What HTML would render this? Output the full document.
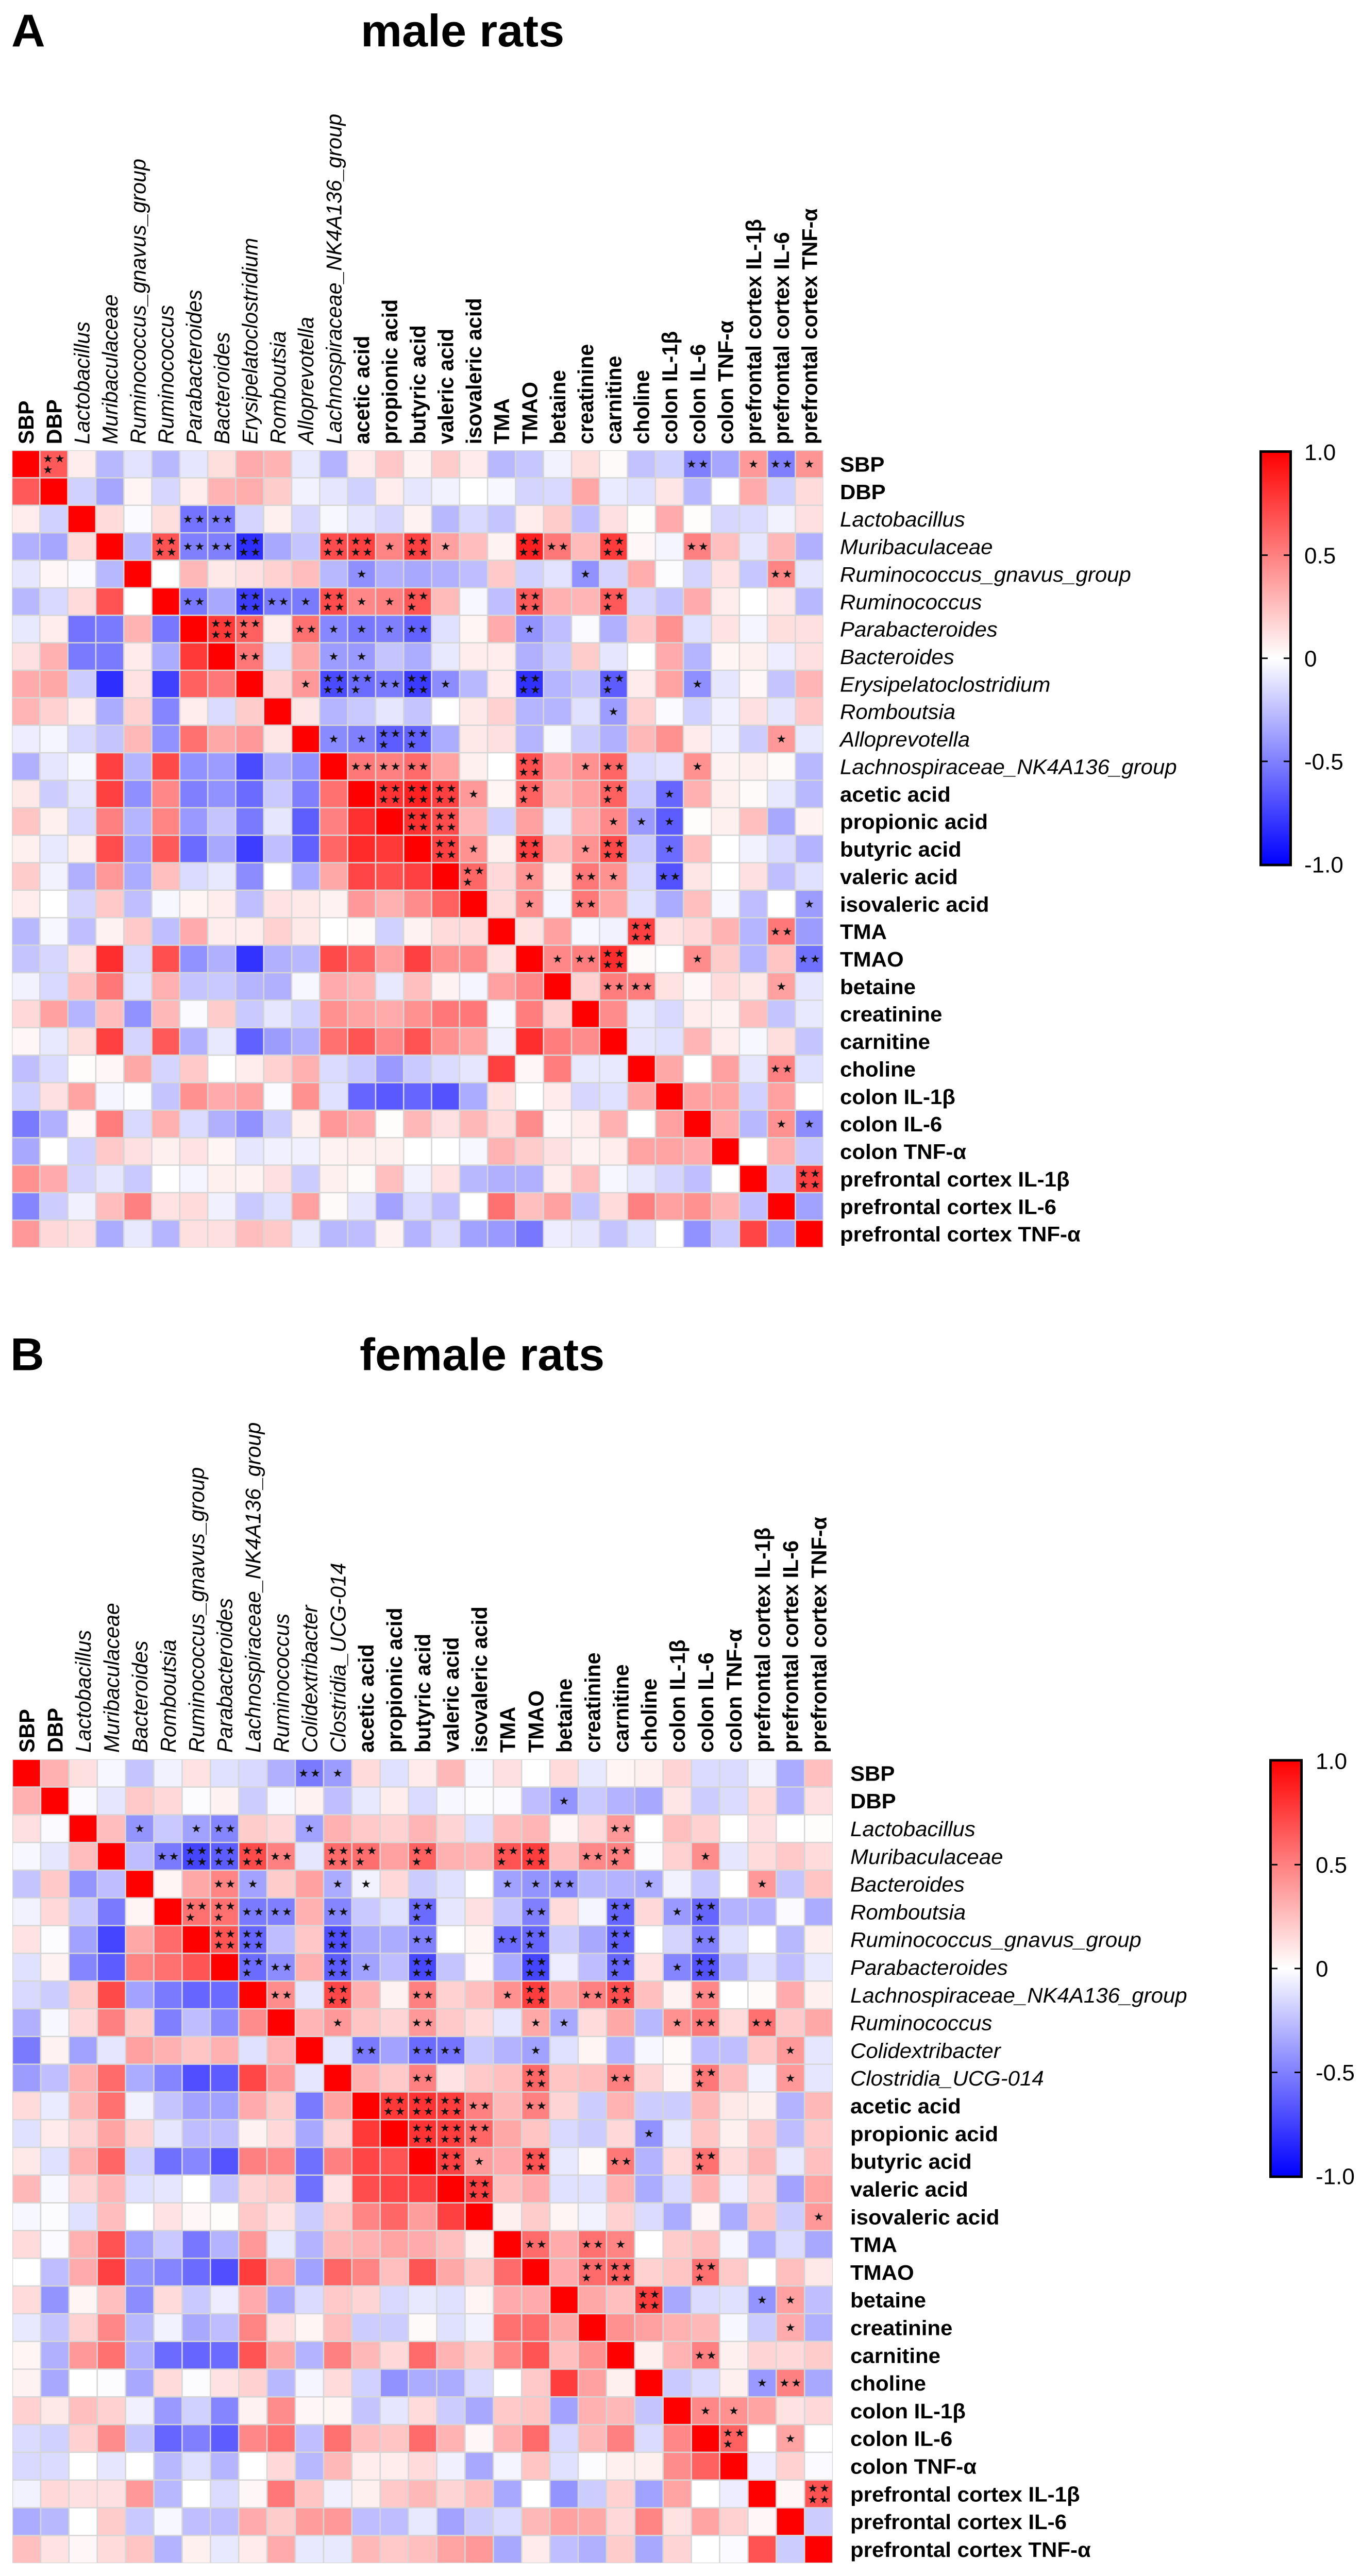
<!DOCTYPE html>
<html lang="en">
<head>
<meta charset="utf-8">
<title>Correlation heatmaps: male and female rats</title>
<style>
html,body{margin:0;padding:0;background:#fff;width:2643px;height:100%;overflow:hidden;}
svg{display:block;position:absolute;left:0;top:0;width:2643px;height:5097px;overflow:hidden;}
text{font-family:"Liberation Sans",Arial,sans-serif;fill:#000;}
.star{font-family:"DejaVu Sans",sans-serif;font-size:22px;text-anchor:middle;fill:#111;}
</style>
</head>
<body>
<svg id="figure" xmlns="http://www.w3.org/2000/svg" width="2643" height="5097" viewBox="0 0 2643 5097" preserveAspectRatio="none">
<rect x="0" y="0" width="2643" height="5097" fill="#ffffff"/>
<defs>
<linearGradient id="cbar" x1="0" y1="0" x2="0" y2="1">
<stop offset="0" stop-color="#ff0000"/>
<stop offset="0.5" stop-color="#ffffff"/>
<stop offset="1" stop-color="#0000ff"/>
</linearGradient>
</defs>
<text x="22" y="92" font-size="91" font-weight="bold">A</text>
<text x="700" y="92" font-size="90" font-weight="bold">male rats</text>
<text x="20" y="2711" font-size="91" font-weight="bold">B</text>
<text x="698" y="2711" font-size="90" font-weight="bold">female rats</text>
</svg>
<script>
const maleCategories = ["SBP","DBP","Lactobacillus","Muribaculaceae","Ruminococcus_gnavus_group","Ruminococcus","Parabacteroides","Bacteroides","Erysipelatoclostridium","Romboutsia","Alloprevotella","Lachnospiraceae_NK4A136_group","acetic acid","propionic acid","butyric acid","valeric acid","isovaleric acid","TMA","TMAO","betaine","creatinine","carnitine","choline","colon IL-1β","colon IL-6","colon TNF-α","prefrontal cortex IL-1β","prefrontal cortex IL-6","prefrontal cortex TNF-α"];
const femaleCategories = ["SBP","DBP","Lactobacillus","Muribaculaceae","Bacteroides","Romboutsia","Ruminococcus_gnavus_group","Parabacteroides","Lachnospiraceae_NK4A136_group","Ruminococcus","Colidextribacter","Clostridia_UCG-014","acetic acid","propionic acid","butyric acid","valeric acid","isovaleric acid","TMA","TMAO","betaine","creatinine","carnitine","choline","colon IL-1β","colon IL-6","colon TNF-α","prefrontal cortex IL-1β","prefrontal cortex IL-6","prefrontal cortex TNF-α"];
const maleValues = [
[1,.65,.07,-.28,-.11,-.28,-.1,.13,.33,.3,-.09,-.3,.08,.22,.05,.2,.08,-.28,-.22,-.05,.13,.02,-.24,-.18,-.5,-.35,.4,-.5,.42],
[.65,1,-.18,-.35,.04,-.16,.07,.3,.32,.2,-.05,-.1,-.18,.07,-.1,-.05,0,-.03,-.17,-.15,.35,-.08,-.12,.1,-.28,0,.33,-.18,.14],
[.07,-.18,1,.14,-.02,.13,-.55,-.52,-.17,.06,-.16,-.03,-.1,-.16,.05,-.28,-.15,-.23,.07,.2,-.25,.12,.01,.33,.01,-.16,-.14,-.05,.12],
[-.31,-.35,.14,1,-.28,.68,-.5,-.5,-.82,-.34,-.23,.7,.75,.48,.75,.37,.26,.05,.87,.53,.27,.77,.03,-.04,.5,.25,-.1,.28,-.31],
[-.1,.03,-.02,-.28,1,0,.28,.09,.12,.18,.26,-.28,-.44,-.31,-.34,-.31,-.26,.21,-.18,-.11,-.43,-.17,.32,-.01,-.17,.11,-.22,.48,-.1],
[-.28,-.15,.14,.68,0,1,-.53,-.34,-.76,-.52,-.52,.7,.47,.5,.67,.27,-.03,-.25,.65,.31,.29,.65,-.16,-.23,.33,.07,0,.09,-.28],
[-.09,.07,-.55,-.52,.3,-.53,1,.78,.62,.07,.56,-.47,-.53,-.5,-.62,-.12,.04,.33,-.43,-.25,-.02,-.31,.22,.43,-.12,.11,-.04,.13,.12],
[.12,.31,-.52,-.52,.08,-.33,.78,1,.53,-.12,.34,-.39,-.4,-.23,-.32,-.09,.07,.07,-.31,-.2,.2,-.1,0,.33,-.29,.04,.06,-.07,.12],
[.33,.34,-.2,-.82,.11,-.75,.62,.53,1,.17,.4,-.71,-.58,-.52,-.77,-.45,-.28,.08,-.81,-.29,-.23,-.64,.08,.36,-.44,-.1,.03,-.23,.29],
[.29,.18,.07,-.33,.18,-.48,.07,-.14,.2,1,.1,-.29,-.21,-.1,-.23,0,.09,.18,-.29,-.29,-.12,-.39,.18,-.02,-.18,-.06,.12,-.1,.21],
[-.07,-.04,-.15,-.23,.28,-.43,.56,.34,.4,.1,1,-.46,-.5,-.64,-.62,-.32,.09,.12,-.29,-.03,-.2,-.31,.28,.43,.08,-.06,-.2,.4,-.09],
[-.31,-.1,-.03,.75,-.29,.71,-.43,-.39,-.71,-.31,-.43,1,.53,.5,.58,.36,.06,0,.69,.33,.43,.6,-.14,-.11,.43,.05,.06,.02,-.28],
[.09,-.2,-.1,.75,-.44,.47,-.5,-.43,-.58,-.21,-.5,.56,1,.8,.87,.75,.4,.04,.62,.28,.37,.62,-.21,-.6,.31,.06,.02,-.09,-.28],
[.23,.06,-.15,.5,-.29,.48,-.4,-.23,-.52,-.1,-.63,.5,.81,1,.81,.7,.29,-.18,.37,-.09,.31,.47,-.4,-.64,.01,.06,.25,-.34,.05],
[.06,-.09,.06,.7,-.36,.65,-.58,-.34,-.76,-.25,-.62,.6,.83,.78,1,.75,.43,.06,.75,.25,.43,.71,-.21,-.58,.25,0,-.05,-.14,-.3],
[.2,-.05,-.31,.4,-.33,.25,-.14,-.09,-.45,0,-.33,.34,.73,.69,.75,1,.6,.15,.43,.05,.53,.43,-.15,-.68,.1,0,.12,-.25,-.12],
[.07,0,-.17,.21,-.25,-.03,.04,.07,-.25,.11,.09,.05,.4,.31,.45,.62,1,.14,.45,-.04,.53,.36,-.12,-.33,.25,-.03,-.26,0,-.39],
[-.28,-.03,-.25,.05,.21,-.25,.33,.07,.07,.18,.09,0,.02,-.18,.05,.14,.14,1,.11,.37,-.03,-.05,.75,.11,.15,.3,-.29,.53,-.39],
[-.23,-.16,.11,.82,-.15,.69,-.43,-.31,-.8,-.31,-.28,.71,.62,.37,.75,.43,.45,.11,1,.47,.51,.82,.02,0,.45,.2,-.29,.23,-.56],
[-.05,-.15,.25,.53,-.12,.31,-.23,-.21,-.29,-.31,-.03,.33,.29,-.09,.25,.05,-.04,.37,.47,1,.18,.51,.51,.11,.03,.14,.09,.37,-.1],
[.15,.37,-.29,.26,-.43,.28,-.02,.2,-.21,-.1,-.18,.43,.36,.33,.43,.53,.53,-.03,.51,.18,1,.45,-.09,-.15,.07,.05,.25,-.23,-.09],
[.03,-.09,.13,.75,-.17,.65,-.31,-.09,-.62,-.39,-.31,.56,.67,.47,.68,.43,.36,-.06,.82,.51,.45,1,-.1,-.12,.29,.07,-.03,.13,-.23],
[-.25,-.14,.01,.03,.34,-.17,.21,0,.07,.18,.31,-.14,-.21,-.4,-.21,-.14,-.1,.75,.03,.51,-.09,-.09,1,.34,0,.37,-.1,.5,-.12],
[-.18,.12,.36,-.04,-.01,-.23,.43,.33,.37,-.02,.43,-.12,-.6,-.65,-.6,-.68,-.33,.11,0,.08,-.16,-.12,.34,1,.37,.36,-.18,.37,0],
[-.52,-.31,.03,.51,-.15,.31,-.14,-.31,-.43,-.2,.06,.4,.33,.01,.28,.12,.28,.14,.45,.03,.07,.31,0,.37,1,.33,-.28,.43,-.45],
[-.34,0,-.18,.21,.12,.06,.11,.04,-.1,-.06,-.06,.05,.06,.06,0,0,-.03,.3,.2,.12,.05,.07,.36,.36,.33,1,0,.31,-.21],
[.43,.33,-.17,-.1,-.21,0,-.04,.06,.05,.12,-.2,.06,.02,.25,-.05,.11,-.28,-.31,-.31,.07,.25,-.03,-.09,-.17,-.25,0,1,-.21,.75],
[-.48,-.2,-.06,.26,.5,.11,.14,-.06,-.21,-.12,.37,.02,-.1,-.36,-.14,-.25,0,.56,.25,.37,-.23,.14,.5,.37,.43,.3,-.25,1,-.37],
[.4,.15,.12,-.33,-.09,-.29,.12,.12,.26,.21,-.09,-.28,-.26,.05,-.3,-.14,-.37,-.4,-.53,-.07,-.1,-.23,-.12,0,-.43,-.21,.73,-.37,1]
];
const femaleValues = [
[1,.31,.12,-.03,-.23,-.05,.11,-.12,-.15,-.31,-.52,-.39,.14,-.12,.08,.28,-.03,.12,0,.14,-.09,.04,.06,.17,-.14,-.14,-.05,-.33,.25],
[.31,1,-.02,-.1,.21,.15,-.01,.05,-.2,-.03,.05,-.25,-.09,.07,-.14,-.03,-.01,-.02,-.26,-.42,-.21,-.3,-.34,.1,-.2,-.14,.14,-.3,.12],
[.12,-.02,1,.26,-.42,-.21,-.37,-.48,.2,.15,-.37,.31,.21,.18,.29,.17,-.12,.26,.29,.03,.15,.4,0,.25,.18,0,.12,0,.01],
[-.03,-.1,.26,1,-.26,-.52,-.73,-.64,.71,.5,-.1,.58,.57,.37,.62,.31,.29,.68,.76,.25,.47,.5,-.01,.18,.45,-.1,.14,.21,.14],
[-.23,.21,-.42,-.26,1,.04,.34,.48,-.36,.2,.37,-.33,-.05,.15,-.2,-.12,0,-.37,-.42,-.45,-.28,-.3,-.33,-.05,-.21,0,.4,-.23,.23],
[-.05,.15,-.21,-.52,.04,1,.56,.56,-.52,-.5,.31,-.48,-.21,-.12,-.58,-.1,.12,-.23,-.5,.14,-.04,-.6,.15,-.4,-.6,-.3,-.3,-.02,-.33],
[.11,-.01,-.37,-.73,.34,.58,1,.67,-.6,-.26,.22,-.69,-.34,-.33,-.5,0,.04,-.58,-.6,-.2,-.34,-.62,0,-.17,-.5,-.12,0,-.28,.06],
[-.12,.05,-.48,-.64,.48,.56,.67,1,-.58,-.45,.31,-.64,-.37,-.26,-.72,-.23,.03,-.33,-.73,-.07,-.26,-.6,.11,-.48,-.68,-.28,-.12,-.26,-.09],
[-.15,-.2,.2,.71,-.36,-.52,-.6,-.58,1,.45,-.1,.72,.31,.05,.5,.18,.25,.43,.76,.34,.5,.69,.25,.05,.47,0,.02,.33,.06],
[-.31,-.03,.15,.5,.2,-.5,-.26,-.45,.45,1,.29,.4,.23,.17,.4,.21,.14,-.1,.34,-.34,.14,.34,-.28,.43,.53,.14,.56,.21,.34],
[-.52,.05,-.37,-.1,.37,.31,.23,.31,-.12,.29,1,-.1,-.52,-.36,-.58,-.55,-.21,-.3,-.37,-.12,.04,-.3,-.03,.02,-.26,-.25,.21,.4,-.1],
[-.39,-.25,.31,.58,-.33,-.48,-.69,-.64,.72,.4,-.1,1,.31,.21,.5,.11,.21,.25,.6,.23,.25,.5,.17,.04,.53,.26,-.05,.4,-.1],
[.14,-.08,.28,.56,-.05,-.23,-.36,-.37,.33,.2,-.52,.36,1,.78,.8,.76,.5,.28,.5,.17,-.2,.3,-.2,-.2,.28,.09,.06,-.3,.28],
[-.12,.08,.17,.36,.17,-.1,-.26,-.25,.05,.15,-.34,.17,.78,1,.8,.76,.6,.34,.23,-.15,-.2,.15,-.43,-.09,.23,.06,.21,-.26,.21],
[.09,-.12,.31,.6,-.18,-.56,-.47,-.67,.5,.47,-.56,.5,.73,.68,1,.75,.39,.33,.67,-.09,.02,.53,-.3,.14,.56,.14,.28,-.09,.25],
[.28,-.03,.17,.29,-.12,-.1,0,-.23,.17,.2,-.56,.11,.7,.73,.75,1,.75,.25,.33,-.12,-.12,.3,-.33,-.14,.3,-.07,.17,-.36,.36],
[-.03,-.01,-.12,.26,0,.11,.03,.01,.21,.11,-.2,.21,.48,.6,.39,.75,1,.06,.2,.04,-.05,.18,-.14,-.33,.03,-.33,.23,-.2,.4],
[.14,-.02,.31,.68,-.37,-.21,-.53,-.3,.4,-.09,-.3,.28,.31,.36,.33,.25,.06,1,.58,.33,.56,.48,0,.2,.25,-.04,-.33,-.14,-.34],
[0,-.26,.33,.75,-.42,-.48,-.58,-.69,.76,.37,-.37,.6,.48,.25,.67,.34,.2,.58,1,.33,.58,.62,.18,.23,.56,.21,0,.25,.09],
[.14,-.42,.04,.25,-.45,.14,-.21,-.07,.33,-.34,-.14,.21,.17,-.15,-.09,-.12,.04,.33,.33,1,.34,.25,.76,-.34,-.14,-.12,-.42,.37,-.25],
[-.09,-.23,.18,.47,-.28,-.05,-.34,-.26,.48,.12,.04,.25,-.2,-.2,.02,-.12,-.05,.56,.58,.34,1,.43,.37,.31,.28,-.03,-.2,.33,-.31],
[.04,-.31,.4,.56,-.31,-.58,-.6,-.58,.67,.34,-.3,.5,.28,.15,.58,.3,.2,.48,.67,.25,.43,1,.06,.3,.5,.06,.17,.15,.2],
[.05,-.34,0,-.01,-.34,.14,-.01,.11,.18,-.28,-.04,.14,-.18,-.43,-.33,-.33,-.14,0,.21,.76,.37,.06,1,-.21,-.14,.06,-.4,.5,-.34],
[.18,.09,.25,.18,-.06,-.4,-.18,-.48,.05,.45,.03,.04,-.23,-.1,.14,-.2,-.34,.21,.23,-.36,.31,.28,-.23,1,.47,.43,.36,.11,.15],
[-.14,-.18,.18,.45,-.23,-.6,-.5,-.64,.47,.56,-.25,.56,.25,.23,.58,.3,.03,.31,.58,-.15,.28,.5,-.14,.47,1,.62,0,.36,0],
[-.15,-.14,0,-.1,0,-.28,-.12,-.29,0,.15,-.28,.28,.07,.07,.14,-.06,-.34,-.04,.23,-.12,-.01,.06,.06,.45,.62,1,-.07,.18,-.02],
[-.05,.15,.12,.12,.4,-.28,0,-.14,.03,.53,.23,-.06,.06,.21,.28,.17,.25,-.34,0,-.42,-.2,.18,-.37,.36,0,-.07,1,.03,.68],
[-.33,-.28,0,.2,-.21,-.03,-.25,-.26,.33,.2,.39,.4,-.26,-.26,-.09,-.36,-.2,-.14,.28,.37,.34,.15,.48,.11,.36,.18,.03,1,-.2],
[.25,.11,.03,.14,.23,-.3,.06,-.09,.08,.33,-.09,-.09,.28,.21,.25,.36,.4,-.34,.08,-.25,-.31,.2,-.34,.17,0,-.02,.68,-.2,1]
];
/* significance marks: [row, column, number of stars] */
const maleStars = [
[0,1,3],[0,24,2],[0,26,1],[0,27,2],[0,28,1],[2,6,2],[2,7,2],
[3,5,4],[3,6,2],[3,7,2],[3,8,4],[3,11,4],[3,12,4],[3,13,1],[3,14,4],[3,15,1],[3,18,4],[3,19,2],[3,21,4],[3,24,2],
[4,12,1],[4,20,1],[4,27,2],
[5,6,2],[5,8,4],[5,9,2],[5,10,1],[5,11,4],[5,12,1],[5,13,1],[5,14,3],[5,18,4],[5,21,3],
[6,7,4],[6,8,3],[6,10,2],[6,11,1],[6,12,1],[6,13,1],[6,14,2],[6,18,1],
[7,8,2],[7,11,1],[7,12,1],
[8,10,1],[8,11,4],[8,12,3],[8,13,2],[8,14,4],[8,15,1],[8,18,4],[8,21,3],[8,24,1],
[9,21,1],
[10,11,1],[10,12,1],[10,13,3],[10,14,3],[10,27,1],
[11,12,2],[11,13,2],[11,14,2],[11,18,4],[11,20,1],[11,21,2],[11,24,1],
[12,13,4],[12,14,4],[12,15,4],[12,16,1],[12,18,3],[12,21,3],[12,23,1],
[13,14,4],[13,15,4],[13,21,1],[13,22,1],[13,23,1],
[14,15,4],[14,16,1],[14,18,4],[14,20,1],[14,21,4],[14,23,1],
[15,16,3],[15,18,1],[15,20,2],[15,21,1],[15,23,2],
[16,18,1],[16,20,2],[16,28,1],
[17,22,4],[17,27,2],
[18,19,1],[18,20,2],[18,21,4],[18,24,1],[18,28,2],
[19,21,2],[19,22,2],[19,27,1],
[22,27,2],[24,27,1],[24,28,1],[26,28,4]
];
const femaleStars = [
[0,10,2],[0,11,1],[1,19,1],
[2,4,1],[2,6,1],[2,7,2],[2,10,1],[2,21,2],
[3,5,2],[3,6,4],[3,7,4],[3,8,4],[3,9,2],[3,11,4],[3,12,3],[3,14,3],[3,17,3],[3,18,4],[3,20,2],[3,21,3],[3,24,1],
[4,7,2],[4,8,1],[4,11,1],[4,12,1],[4,17,1],[4,18,1],[4,19,2],[4,22,1],[4,26,1],
[5,6,3],[5,7,3],[5,8,2],[5,9,2],[5,11,2],[5,14,3],[5,18,2],[5,21,3],[5,23,1],[5,24,3],
[6,7,4],[6,8,4],[6,11,4],[6,14,2],[6,17,2],[6,18,3],[6,21,3],[6,24,2],
[7,8,3],[7,9,2],[7,11,4],[7,12,1],[7,14,4],[7,18,4],[7,21,3],[7,23,1],[7,24,4],
[8,9,2],[8,11,4],[8,14,2],[8,17,1],[8,18,4],[8,20,2],[8,21,4],[8,24,2],
[9,11,1],[9,14,2],[9,18,1],[9,19,1],[9,23,1],[9,24,2],[9,26,2],
[10,12,2],[10,14,2],[10,15,2],[10,18,1],[10,27,1],
[11,14,2],[11,18,4],[11,21,2],[11,24,3],[11,27,1],
[12,13,4],[12,14,4],[12,15,4],[12,16,2],[12,18,2],
[13,14,4],[13,15,4],[13,16,3],[13,22,1],
[14,15,4],[14,16,1],[14,18,4],[14,21,2],[14,24,3],
[15,16,4],[16,28,1],
[17,18,2],[17,20,2],[17,21,1],
[18,20,3],[18,21,4],[18,24,3],
[19,22,4],[19,26,1],[19,27,1],
[20,27,1],[21,24,2],[22,26,1],[22,27,2],
[23,24,1],[23,25,1],[24,25,3],[24,27,1],[26,28,4]
];
const colorbarTicks = [1, 0.5, 0, -0.5, -1];
const colorbarTickLabels = ["1.0", "0.5", "0", "-0.5", "-1.0"];

const SVG_NS = "http://www.w3.org/2000/svg";
const figure = document.getElementById("figure");

function make(tag, attrs, parent) {
  const node = document.createElementNS(SVG_NS, tag);
  for (const key in attrs) node.setAttribute(key, attrs[key]);
  parent.appendChild(node);
  return node;
}
function colorScale(v) {
  const t = Math.max(-1, Math.min(1, v));
  if (t >= 0) {
    const c = Math.round(255 * (1 - t));
    return "rgb(255," + c + "," + c + ")";
  }
  const c = Math.round(255 * (1 + t));
  return "rgb(" + c + "," + c + ",255)";
}
function labelStyle(index) {
  return index >= 2 && index <= 11
    ? { "font-style": "italic" }
    : { "font-weight": "bold" };
}

function drawHeatmap(cfg) {
  const n = cfg.categories.length;
  const xScale = i => cfg.x0 + i * cfg.pitchX;
  const yScale = i => cfg.y0 + i * cfg.pitchY;

  const group = make("g", {}, figure);
  
  

  const grid = make("rect", { x: xScale(0), y: yScale(0), width: n * cfg.pitchX, height: n * cfg.pitchY, fill: "#d6d6d6" }, group);
  
  

  cfg.values.forEach((row, r) => {
    row.forEach((v, c) => {
      const cell = make("rect", {
        x: xScale(c) + 1.3,
        y: yScale(r) + 1.3,
        width: cfg.pitchX - 2.6,
        height: cfg.pitchY - 2.6,
        fill: colorScale(v)
      }, group);
      
      
    });
  });

  cfg.stars.forEach(mark => {
    const cx = xScale(mark[1]) + cfg.pitchX / 2;
    const cy = yScale(mark[0]) + cfg.pitchY / 2;
    const count = mark[2];
    const dx = 11.5, dy = 11, lift = 7.5;
    let spots;
    if (count === 1) spots = [[cx, cy]];
    else if (count === 2) spots = [[cx - dx, cy], [cx + dx, cy]];
    else if (count === 3) spots = [[cx - dx, cy - dy], [cx + dx, cy - dy], [cx - dx, cy + dy]];
    else spots = [[cx - dx, cy - dy], [cx + dx, cy - dy], [cx - dx, cy + dy], [cx + dx, cy + dy]];
    spots.forEach(p => {
      const star = make("text", { x: p[0], y: p[1] + lift, "class": "star" }, group);
      star.textContent = "★";
      
      
    });
  });

  cfg.categories.forEach((label, i) => {
    const colX = xScale(i) + cfg.pitchX / 2 + 15;
    const top = make("text", Object.assign({
      x: colX, y: cfg.colBase, "font-size": cfg.fontSize,
      transform: "rotate(-90 " + colX + " " + cfg.colBase + ")"
    }, labelStyle(i)), group);
    top.textContent = label;
    
    

    const right = make("text", Object.assign({
      x: cfg.rowLabelX, y: yScale(i) + cfg.pitchY / 2 + 15, "font-size": cfg.fontSize
    }, labelStyle(i)), group);
    right.textContent = label;
    
    
  });

  const legend = make("g", {}, figure);
  
  
  const legendY = v => cfg.barMid - v * cfg.barHalf;

  const bar = make("rect", {
    x: cfg.barX + 2.5, y: legendY(1) - 1, width: cfg.barW - 5, height: legendY(-1) - legendY(1) + 2,
    fill: "url(#cbar)", stroke: "#000", "stroke-width": 5
  }, legend);
  
  

  colorbarTicks.forEach((v, i) => {
    if (Math.abs(v) < 1) {
      const left = make("line", { x1: cfg.barX + 3, x2: cfg.barX + 16, y1: legendY(v), y2: legendY(v), stroke: "#000", "stroke-width": 3 }, legend);
      
      
      const rightTick = make("line", { x1: cfg.barX + cfg.barW - 16, x2: cfg.barX + cfg.barW - 3, y1: legendY(v), y2: legendY(v), stroke: "#000", "stroke-width": 3 }, legend);
      
      
    }
    const tick = make("text", { x: cfg.barLabelX, y: legendY(v) + 16, "font-size": 44 }, legend);
    tick.textContent = colorbarTickLabels[i];
    
    
  });
}

drawHeatmap({
  name: "male", categories: maleCategories, values: maleValues, stars: maleStars,
  x0: 23, y0: 891, pitchX: 54.3, pitchY: 54.4,
  colBase: 879, rowLabelX: 1630, fontSize: 42,
  barX: 2444, barW: 63, barMid: 1302.5, barHalf: 408, barLabelX: 2531
});
drawHeatmap({
  name: "female", categories: femaleCategories, values: femaleValues, stars: femaleStars,
  x0: 24, y0: 3481, pitchX: 54.9, pitchY: 54.85,
  colBase: 3468, rowLabelX: 1650, fontSize: 42,
  barX: 2463, barW: 65, barMid: 3895, barHalf: 411, barLabelX: 2553
});

/* Keep the whole figure inside the frame if the viewport is slightly short of full height. */
if (window.innerHeight >= 4500 && window.innerHeight < 5097) {
  figure.style.height = window.innerHeight + "px";
}
</script>
</body>
</html>
